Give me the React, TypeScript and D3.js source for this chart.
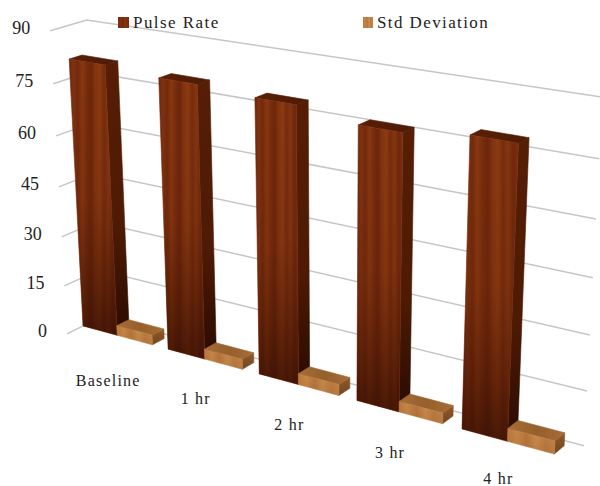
import React from "react";
import * as d3 from "d3";

const categories = ["Baseline", "1 hr", "2 hr", "3 hr", "4 hr"];
const seriesNames = ["Pulse Rate", "Std Deviation"];
const pulseRate = [80.5, 79.4, 78.4, 75.9, 78.2];
const stdDeviation = [3, 3, 3.2, 3, 3.6];
const valueTicks = [0, 15, 30, 45, 60, 75, 90];

const WIDTH = 600;
const HEIGHT = 486;
const FONT = "'Liberation Serif', 'Times New Roman', serif";

// World axes: c runs along the categories, d runs into the chart, v is the value height.
const WALL_DEPTH = 1.5;
const SIDE_DEPTH = -1.3;

function project(c: number, d: number, v: number): [number, number] {
  const w = 1 - 0.0328 * c + 0.008 * d - 0.00065 * v;
  const x = (79.6 * c + 12.8 * d - 0.217 * v + 83) / w;
  const y = (11.68 * c - 3.4 * d - 3.354 * v + 326) / w;
  return [x, y];
}

const categoryScale = d3.scaleBand<string>().domain(categories).range([0, categories.length]);
const seriesScale = d3.scaleBand<string>().domain(seriesNames).range([0, 0.82]);
const valueScale = d3.scaleLinear().domain([0, 90]).range([0, 90]);
const outline = d3.line<[number, number]>().curve(d3.curveLinearClosed);

// Category labels sit below the front floor edge of each group.
const labelDrop = [51, 45, 45, 46, 42.5];

type Face = { points: [number, number][]; fill: string; overlay?: boolean };

function boxFaces(c0: number, c1: number, value: number, tone: "dark" | "light"): Face[] {
  const v = valueScale(value);
  const p = project;
  return [
    {
      fill: `url(#${tone}-side)`,
      points: [p(c1, 0, v), p(c1, 1, v), p(c1, 1, 0), p(c1, 0, 0)],
    },
    {
      fill: `url(#${tone}-top)`,
      points: [p(c0, 0, v), p(c0, 1, v), p(c1, 1, v), p(c1, 0, v)],
    },
    {
      fill: `url(#${tone}-front)`,
      points: [p(c0, 0, v), p(c1, 0, v), p(c1, 0, 0), p(c0, 0, 0)],
    },
    {
      fill: `url(#${tone}-shade)`,
      overlay: true,
      points: [p(c0, 0, v), p(c1, 0, v), p(c1, 0, 0), p(c0, 0, 0)],
    },
  ];
}

function Bar({ c0, c1, value, tone }: { c0: number; c1: number; value: number; tone: "dark" | "light" }) {
  return (
    <g>
      {boxFaces(c0, c1, value, tone).map((face, i) => (
        <path
          key={i}
          d={outline(face.points) ?? ""}
          fill={face.fill}
          stroke={face.overlay ? "none" : face.fill}
          strokeWidth={face.overlay ? 0 : 0.6}
          strokeLinejoin="round"
        />
      ))}
    </g>
  );
}

// Grain stripes across a face, alternating between wood tones.
const darkGrain = [
  "#6d270c", "#80320f", "#722a0c", "#89380f", "#782d0d", "#6c260b",
  "#83340f", "#8c3b10", "#762c0d", "#85360f", "#6f280c", "#7b2f0e",
];
const lightGrain = ["#b9783f", "#c68748", "#b6743c", "#c98c4e", "#bc7c42", "#c4854a"];

function Grain({ id, stops }: { id: string; stops: string[] }) {
  return (
    <linearGradient id={id} x1="0" y1="0" x2="1" y2="0">
      {stops.map((color, i) => (
        <stop key={i} offset={i / (stops.length - 1)} stopColor={color} />
      ))}
    </linearGradient>
  );
}

export default function App() {
  const wallStart = categoryScale(categories[0]) ?? 0;
  const wallEnd = categories.length - 0.05;
  return (
    <svg
      width={WIDTH}
      height={HEIGHT}
      viewBox={`0 0 ${WIDTH} ${HEIGHT}`}
      style={{ position: "absolute", left: 0, top: 0, background: "#fff" }}
    >
      <defs>
        <Grain id="dark-front" stops={darkGrain} />
        <Grain id="light-front" stops={lightGrain} />
        <linearGradient id="dark-shade" x1="0" y1="0" x2="0" y2="1">
          <stop offset="0" stopColor="#5a1a05" stopOpacity="0" />
          <stop offset="0.5" stopColor="#4a1404" stopOpacity="0.12" />
          <stop offset="1" stopColor="#2a0902" stopOpacity="0.68" />
        </linearGradient>
        <linearGradient id="light-shade" x1="0" y1="0" x2="0" y2="1">
          <stop offset="0" stopColor="#8a5020" stopOpacity="0" />
          <stop offset="1" stopColor="#8a5020" stopOpacity="0.2" />
        </linearGradient>
        <linearGradient id="dark-side" x1="0" y1="0" x2="0" y2="1">
          <stop offset="0" stopColor="#561e05" />
          <stop offset="0.6" stopColor="#4e1a04" />
          <stop offset="1" stopColor="#2a0b02" />
        </linearGradient>
        <linearGradient id="light-side" x1="0" y1="0" x2="0" y2="1">
          <stop offset="0" stopColor="#8e5a2a" />
          <stop offset="1" stopColor="#74461f" />
        </linearGradient>
        <linearGradient id="dark-top" x1="0" y1="0" x2="1" y2="0">
          <stop offset="0" stopColor="#5a1f05" />
          <stop offset="1" stopColor="#4e1a04" />
        </linearGradient>
        <linearGradient id="light-top" x1="0" y1="0" x2="1" y2="0">
          <stop offset="0" stopColor="#a66c35" />
          <stop offset="0.5" stopColor="#96602c" />
          <stop offset="1" stopColor="#a66c35" />
        </linearGradient>
      </defs>

      {/* Value gridlines: a short run on the side wall, then the long back wall */}
      {valueTicks.map((tick) => {
        const v = valueScale(tick);
        const line = d3.line()([
          project(wallStart, SIDE_DEPTH, v),
          project(wallStart, WALL_DEPTH, v),
          project(wallEnd, WALL_DEPTH, v),
        ]);
        return <path key={tick} d={line ?? ""} fill="none" stroke="#c6c6c6" strokeWidth={1.5} />;
      })}

      {/* Value axis labels */}
      {valueTicks.map((tick) => {
        const [x, y] = project(wallStart, SIDE_DEPTH, valueScale(tick));
        return (
          <text key={tick} x={x - 20} y={y + 3} textAnchor="end" fontFamily={FONT} fontSize={18} fill="#222">
            {tick}
          </text>
        );
      })}

      {/* Bars, painted left to right so nearer groups overlap farther ones */}
      {categories.map((category, i) => {
        const base = categoryScale(category) ?? 0;
        const pulseStart = base + (seriesScale(seriesNames[0]) ?? 0);
        const stdStart = base + (seriesScale(seriesNames[1]) ?? 0);
        const band = seriesScale.bandwidth();
        return (
          <g key={category}>
            <Bar c0={pulseStart} c1={pulseStart + band} value={pulseRate[i]} tone="dark" />
            <Bar c0={stdStart} c1={stdStart + band} value={stdDeviation[i]} tone="light" />
          </g>
        );
      })}

      {/* Category labels */}
      {categories.map((category, i) => {
        const base = categoryScale(category) ?? 0;
        const [x, y] = project(base + 0.41, 0, 0);
        return (
          <text
            key={category}
            x={x - 9}
            y={y + labelDrop[i]}
            textAnchor="middle"
            fontFamily={FONT}
            fontSize={16}
            letterSpacing={1.2}
            fill="#222"
          >
            {category}
          </text>
        );
      })}

      {/* Legend */}
      <rect x={118} y={17} width={11} height={11} fill="url(#dark-front)" />
      <text x={133} y={28} fontFamily={FONT} fontSize={17} letterSpacing={1.45} fill="#222">
        {seriesNames[0]}
      </text>
      <rect x={363} y={17} width={10} height={11} fill="url(#light-front)" />
      <text x={377} y={28} fontFamily={FONT} fontSize={17} letterSpacing={1.4} fill="#222">
        {seriesNames[1]}
      </text>
    </svg>
  );
}
